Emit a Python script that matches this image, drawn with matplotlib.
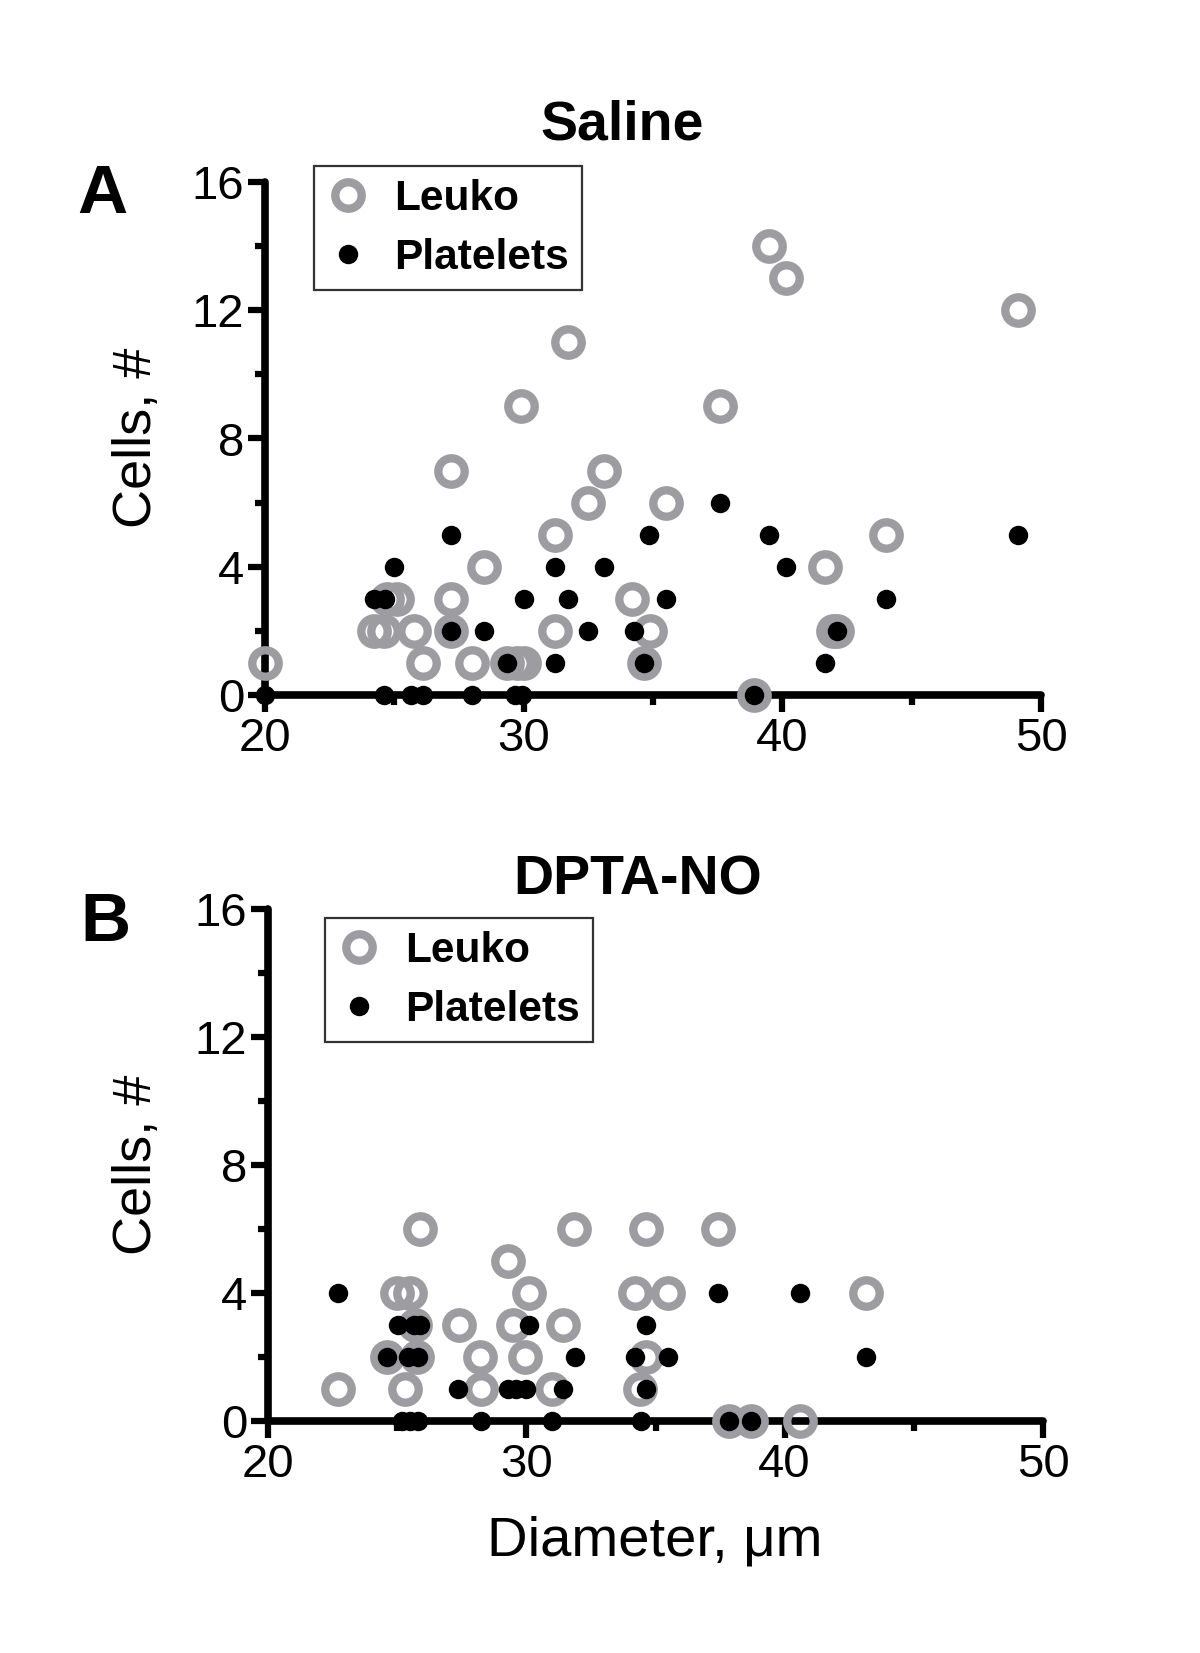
import matplotlib
matplotlib.use("Agg")
import matplotlib.pyplot as plt
from matplotlib.lines import Line2D
from matplotlib.ticker import MultipleLocator

plt.rcParams['font.family'] = ['Liberation Sans', 'DejaVu Sans']

# ---------------- data ----------------
saline_leuko_x = [20.0, 24.2, 24.6, 25.75, 24.7, 25.1, 26.1, 27.2, 27.2, 27.2, 28.45, 28.0,
                  29.35, 29.75, 30.0, 29.9, 31.7, 31.2, 31.2, 32.5, 33.1, 34.2, 34.9, 34.65,
                  35.5, 37.6, 38.9, 39.5, 40.15, 41.65, 41.95, 42.1, 44.0, 49.1]
saline_leuko_y = [1, 2, 2, 2, 3, 3, 1, 7, 3, 2, 4, 1,
                  1, 1, 1, 9, 11, 5, 2, 6, 7, 3, 2, 1,
                  6, 9, 0, 14, 13, 4, 2, 2, 5, 12]
saline_plt_x = [20.0, 24.2, 24.65, 25.0, 24.6, 25.65, 26.1, 27.2, 27.2, 28.45, 28.0, 29.35,
                29.65, 29.95, 30.0, 31.2, 31.2, 31.7, 32.5, 33.1, 34.25, 34.85, 34.65, 35.5,
                37.6, 38.9, 39.5, 40.15, 41.65, 42.1, 44.0, 49.1]
saline_plt_y = [0, 3, 3, 4, 0, 0, 0, 5, 2, 2, 0, 1,
                0, 0, 3, 4, 1, 3, 2, 4, 2, 5, 1, 3,
                6, 0, 5, 4, 1, 2, 3, 5]

dpta_leuko_x = [22.7, 25.0, 25.5, 25.9, 25.7, 24.6, 25.75, 25.3, 27.4, 28.2, 28.25, 29.3,
                29.5, 30.1, 29.95, 31.0, 31.85, 31.4, 34.65, 34.2, 35.5, 34.65, 34.4, 37.4,
                37.85, 38.7, 40.6, 43.15]
dpta_leuko_y = [1, 4, 4, 6, 3, 2, 2, 1, 3, 2, 1, 5,
                3, 4, 2, 1, 6, 3, 6, 4, 4, 2, 1, 6,
                0, 0, 0, 4]
dpta_plt_x = [22.7, 25.05, 25.65, 25.9, 24.6, 25.4, 25.8, 25.2, 25.5, 25.8, 27.35, 28.25,
              29.3, 29.6, 30.0, 30.1, 31.4, 31.0, 31.9, 34.2, 35.5, 34.65, 34.65, 34.45,
              37.4, 37.85, 38.7, 40.6, 43.15]
dpta_plt_y = [4, 3, 3, 3, 2, 2, 2, 0, 0, 0, 1, 0,
              1, 1, 1, 3, 1, 0, 2, 2, 2, 3, 1, 0,
              4, 0, 0, 4, 2]

titles = ["Saline", "DPTA-NO"]
panel_letters = ["A", "B"]
series_names = ["Leuko", "Platelets"]
x_label = "Diameter, \u03bcm"
y_label = "Cells, #"

GRAY = "#9c9ca1"

fig = plt.figure(figsize=(12, 16.53), dpi=100)

W, H = 1200.0, 1653.0
def fx(px):
    return px / W
def fy(py):
    return 1 - py / H

axA = fig.add_axes([fx(265), fy(695), fx(1041) - fx(265), fy(182) - fy(695)])
axB = fig.add_axes([fx(268), fy(1421), fx(1043) - fx(268), fy(909) - fy(1421)])

panels = [
    (axA, saline_leuko_x, saline_leuko_y, saline_plt_x, saline_plt_y),
    (axB, dpta_leuko_x, dpta_leuko_y, dpta_plt_x, dpta_plt_y),
]

ring_ms = 19.0
ring_mew = 6.0
dot_ms = 14.0

for ax, lx, ly, px_, py_ in panels:
    ax.plot(lx, ly, linestyle='none', marker='o', ms=ring_ms, mfc='none',
            mec=GRAY, mew=ring_mew, clip_on=False, zorder=3)
    ax.plot(px_, py_, linestyle='none', marker='o', ms=dot_ms, mfc='black',
            mec='black', mew=0, clip_on=False, zorder=4)
    ax.set_xlim(20, 50)
    ax.set_ylim(0, 16)
    for s in ['top', 'right']:
        ax.spines[s].set_visible(False)
    for s in ['left', 'bottom']:
        ax.spines[s].set_linewidth(5.5)
        ax.spines[s].set_capstyle('round')
        ax.spines[s].set_zorder(2)
    ax.xaxis.set_major_locator(MultipleLocator(10))
    ax.xaxis.set_minor_locator(MultipleLocator(5))
    ax.yaxis.set_major_locator(MultipleLocator(4))
    ax.yaxis.set_minor_locator(MultipleLocator(2))
    ax.tick_params(which='major', length=12, width=4.5, labelsize=34, pad=3)
    ax.tick_params(which='minor', length=7, width=4.5)
    ax.tick_params(axis='x', which='major', pad=4)
    ax.set_facecolor('none')

# axis labels
fig.text(fx(137), fy(438), y_label, rotation=90, ha='center', va='center', fontsize=39)
fig.text(fx(137), fy(1165), y_label, rotation=90, ha='center', va='center', fontsize=39)
fig.text(fx(655), fy(1542), x_label, ha='center', va='center', fontsize=40.5)

# titles
fig.text(fx(622), fy(126), titles[0], ha='center', va='center', fontsize=40, fontweight='bold')
fig.text(fx(638), fy(880), titles[1], ha='center', va='center', fontsize=40, fontweight='bold')

# panel letters
fig.text(fx(102), fy(195), panel_letters[0], ha='center', va='center', fontsize=50, fontweight='bold')
fig.text(fx(105), fy(923), panel_letters[1], ha='center', va='center', fontsize=50, fontweight='bold')

# legends
handles = [
    Line2D([], [], linestyle='none', marker='o', ms=ring_ms, mfc='none', mec=GRAY, mew=ring_mew),
    Line2D([], [], linestyle='none', marker='o', ms=dot_ms, mfc='black', mec='black', mew=0),
]
for ax, (lx0, ly0) in [(axA, (314, 166)), (axB, (325, 918))]:
    leg = ax.legend(handles, series_names, loc='upper left',
                    bbox_to_anchor=(fx(lx0), fy(ly0)), bbox_transform=fig.transFigure,
                    borderaxespad=0, fancybox=False, frameon=True,
                    prop={'weight': 'bold', 'size': 30.5}, handlelength=1.0,
                    handletextpad=0.6, labelspacing=0.45, borderpad=0.3)
    leg.get_frame().set_edgecolor('black')
    leg.get_frame().set_linewidth(1.6)

fig.savefig("out.png", dpi=100)
